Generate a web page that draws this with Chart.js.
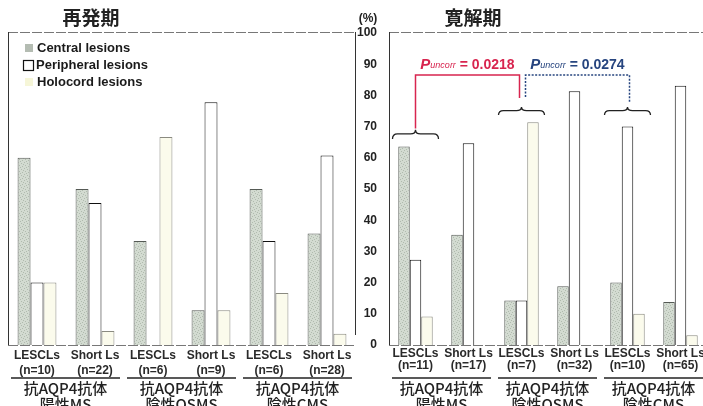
<!DOCTYPE html>
<html>
<head>
<meta charset="utf-8">
<script src="https://cdn.jsdelivr.net/npm/chart.js@4.4.1/dist/chart.umd.min.js"></script>
<style>
  html, body { margin: 0; padding: 0; background: #fff; width: 703px; height: 406px; overflow: hidden; }
  canvas { position: absolute; top: 0; }
  #relapse { left: 0; }
  #remission { left: 356px; }
</style>
</head>
<body>
<canvas id="relapse" width="360" height="406"></canvas>
<canvas id="remission" width="351" height="406"></canvas>
<script>
// chart data
const lesionTypes = ['Central lesions', 'Peripheral lesions', 'Holocord lesions'];
const relapseLabels = [['LESCLs', '(n=10)'], ['Short Ls', '(n=22)'], ['LESCLs', '(n=6)'], ['Short Ls', '(n=9)'], ['LESCLs', '(n=6)'], ['Short Ls', '(n=28)']];
const remissionLabels = [['LESCLs', '(n=11)'], ['Short Ls', '(n=17)'], ['LESCLs', '(n=7)'], ['Short Ls', '(n=32)'], ['LESCLs', '(n=10)'], ['Short Ls', '(n=65)']];
const groupNames = [['抗AQP4抗体', '陽性MS'], ['抗AQP4抗体', '陰性OSMS'], ['抗AQP4抗体', '陰性CMS']];

const relapseCentral = [60, 50, 33.3, 11.1, 50, 35.7];
const relapsePeripheral = [20, 45.5, 0, 77.8, 33.3, 60.7];
const relapseHolocord = [20, 4.5, 66.7, 11.1, 16.7, 3.6];

const remissionCentral = [63.6, 35.3, 14.3, 18.8, 20, 13.8];
const remissionPeripheral = [27.3, 64.7, 14.3, 81.3, 70, 83.1];
const remissionHolocord = [9.1, 0, 71.4, 0, 10, 3.1];

const yTicks = [0, 10, 20, 30, 40, 50, 60, 70, 80, 90, 100];
const pValues = ['0.0218', '0.0274'];

const latin = "'Liberation Sans', Arial, sans-serif";
const cjk = "'Noto Sans CJK JP', 'Noto Sans', sans-serif";

// speckled grey fill for the central lesions bars
function speckle() {
    const c = document.createElement('canvas');
    c.width = 6; c.height = 6;
    const g = c.getContext('2d');
    g.fillStyle = '#d3dbd1';
    g.fillRect(0, 0, 6, 6);
    g.fillStyle = '#b0bbae';
    [[0, 0], [3, 1], [1, 3], [4, 4], [5, 2], [2, 5]].forEach(p => g.fillRect(p[0], p[1], 1, 1));
    return g.createPattern(c, 'repeat');
}
const centralFill = speckle();

function makeDatasets(central, peripheral, holocord) {
    return [
        { label: lesionTypes[0], data: central, backgroundColor: centralFill, borderColor: '#555a55', borderWidth: 1 },
        { label: lesionTypes[1], data: peripheral, backgroundColor: '#ffffff', borderColor: '#111111', borderWidth: 1 },
        { label: lesionTypes[2], data: holocord, backgroundColor: '#fbfbec', borderColor: '#8a8a80', borderWidth: 1 }
    ];
}

// frame round the plot area
function drawFrame(ctx, a, sides) {
    ctx.save();
    ctx.lineWidth = 1;
    ctx.strokeStyle = '#777';
    ctx.setLineDash([10, 2]);
    ctx.beginPath();
    ctx.moveTo(a.left, a.top - 0.5); ctx.lineTo(a.right, a.top - 0.5);
    ctx.moveTo(a.left, a.bottom + 0.5); ctx.lineTo(a.right, a.bottom + 0.5);
    ctx.stroke();
    ctx.setLineDash([]);
    ctx.strokeStyle = '#333';
    ctx.beginPath();
    if (sides.left) { ctx.moveTo(a.left + 0.5, a.top - 1); ctx.lineTo(a.left + 0.5, a.bottom); }
    if (sides.right) { ctx.moveTo(a.right - 0.5, a.top - 1); ctx.lineTo(a.right - 0.5, a.bottom - 10); }
    ctx.stroke();
    ctx.restore();
}

// group names under each pair of categories
function drawGroups(chart) {
    const ctx = chart.ctx;
    const x = chart.scales.x;
    const w = x.getPixelForValue(1) - x.getPixelForValue(0);
    const base = chart.chartArea.bottom;
    ctx.save();
    groupNames.forEach((name, g) => {
        const l = x.getPixelForValue(2 * g) - w / 2 + 3;
        const r = x.getPixelForValue(2 * g + 1) + w / 2 - 4;
        ctx.strokeStyle = '#222';
        ctx.lineWidth = 1.5;
        ctx.beginPath();
        ctx.moveTo(l, base + 33); ctx.lineTo(r, base + 33);
        ctx.stroke();
        ctx.fillStyle = '#222';
        ctx.font = '500 15px ' + cjk;
        ctx.textAlign = 'center';
        ctx.textBaseline = 'middle';
        ctx.fillText(name[0], (l + r) / 2, base + 43);
        ctx.fillText(name[1], (l + r) / 2, base + 59);
    });
    ctx.restore();
}

function drawTitle(ctx, text, x) {
    ctx.save();
    ctx.fillStyle = '#222';
    ctx.font = 'bold 19px ' + cjk;
    ctx.textAlign = 'center';
    ctx.textBaseline = 'middle';
    ctx.fillText(text, x, 18);
    ctx.restore();
}

const relapsePanel = {
    id: 'relapsePanel',
    beforeDatasetsDraw(chart) {
        drawFrame(chart.ctx, chart.chartArea, { left: true, right: true });
    },
    afterDraw(chart) {
        const ctx = chart.ctx;
        drawTitle(ctx, '再発期', 91);
        drawGroups(chart);
        // legend inside the plot
        ctx.save();
        ctx.font = 'bold 13px ' + latin;
        ctx.textBaseline = 'middle';
        ctx.fillStyle = '#b4bcb2';
        ctx.fillRect(25, 44, 8, 8);
        ctx.strokeStyle = '#111';
        ctx.lineWidth = 1.2;
        ctx.strokeRect(23.5, 60.5, 10, 10);
        ctx.fillStyle = '#f6f6d8';
        ctx.fillRect(25, 78, 8, 8);
        ctx.fillStyle = '#1a1a1a';
        ctx.fillText(lesionTypes[0], 37, 48);
        ctx.fillText(lesionTypes[1], 36, 65);
        ctx.fillText(lesionTypes[2], 37, 82);
        ctx.restore();
    }
};

function brace(ctx, xc, half, yTip, yEnd) {
    const ym = yTip + (yEnd - yTip) * 0.45;
    const r = 5;
    ctx.beginPath();
    ctx.moveTo(xc - half, yEnd);
    ctx.quadraticCurveTo(xc - half, ym, xc - half + r, ym);
    ctx.lineTo(xc - r, ym);
    ctx.quadraticCurveTo(xc, ym, xc, yTip);
    ctx.quadraticCurveTo(xc, ym, xc + r, ym);
    ctx.lineTo(xc + half - r, ym);
    ctx.quadraticCurveTo(xc + half, ym, xc + half, yEnd);
    ctx.stroke();
}

function pText(ctx, value, xc, y, color) {
    const f1 = 'italic bold 15px ' + latin;
    const f2 = 'italic 9px ' + latin;
    const f3 = 'bold 14px ' + latin;
    const tail = ' = ' + value;
    ctx.font = f1; const w1 = ctx.measureText('P').width;
    ctx.font = f2; const w2 = ctx.measureText('uncorr').width;
    ctx.font = f3; const w3 = ctx.measureText(tail).width;
    let x = xc - (w1 + w2 + w3) / 2;
    ctx.fillStyle = color;
    ctx.textAlign = 'left';
    ctx.textBaseline = 'alphabetic';
    ctx.font = f1; ctx.fillText('P', x, y); x += w1;
    ctx.font = f2; ctx.fillText('uncorr', x, y - 1); x += w2;
    ctx.font = f3; ctx.fillText(tail, x, y);
}

const remissionPanel = {
    id: 'remissionPanel',
    beforeDatasetsDraw(chart) {
        drawFrame(chart.ctx, chart.chartArea, { left: true, right: false });
    },
    afterDraw(chart, args, opts) {
        const ctx = chart.ctx;
        const x = chart.scales.x;
        const y = chart.scales.y;
        drawTitle(ctx, '寛解期', 117);
        ctx.save();
        ctx.font = 'bold 12px ' + latin;
        ctx.fillStyle = '#222';
        ctx.textAlign = 'center';
        ctx.textBaseline = 'middle';
        ctx.fillText('(%)', 12, 19);
        ctx.restore();
        drawGroups(chart);

        ctx.save();
        ctx.strokeStyle = '#222';
        ctx.lineWidth = 1.3;
        opts.braces.forEach(b => {
            brace(ctx, x.getPixelForValue(b.index), 23, y.getPixelForValue(b.tip), y.getPixelForValue(b.end));
        });
        opts.brackets.forEach((b, i) => {
            const x1 = x.getPixelForValue(b.from) + b.fromOff;
            const x2 = x.getPixelForValue(b.to) + b.toOff;
            const top = y.getPixelForValue(b.level);
            ctx.strokeStyle = b.color;
            ctx.lineWidth = 1.5;
            ctx.setLineDash(b.dash);
            ctx.beginPath();
            ctx.moveTo(x1, y.getPixelForValue(b.fromEnd));
            ctx.lineTo(x1, top);
            ctx.lineTo(x2, top);
            ctx.lineTo(x2, y.getPixelForValue(b.toEnd));
            ctx.stroke();
            ctx.setLineDash([]);
            pText(ctx, pValues[i], (x1 + x2) / 2, top - 6, b.color);
        });
        ctx.restore();
    }
};

function xAxis(labels, padding, lineHeight) {
    return {
        type: 'category',
        labels: labels,
        grid: { display: false, drawTicks: false },
        border: { display: false },
        ticks: { color: '#2a2a2a', padding: padding, maxRotation: 0, autoSkip: false,
                 font: { family: latin, size: 12, weight: 'bold', lineHeight: lineHeight } },
        afterFit: s => { s.height = 61; }
    };
}

new Chart(document.getElementById('relapse'), {
    type: 'bar',
    data: { labels: relapseLabels, datasets: makeDatasets(relapseCentral, relapsePeripheral, relapseHolocord) },
    options: {
        responsive: false,
        animation: false,
        layout: { padding: { top: 33, left: 8, right: 4, bottom: 0 } },
        datasets: { bar: { categoryPercentage: 0.67, barPercentage: 1 } },
        scales: {
            x: xAxis(relapseLabels, 3, 1.25),
            y: { display: false, min: 0, max: 100 }
        },
        plugins: { legend: { display: false }, tooltip: { enabled: false } }
    },
    plugins: [relapsePanel]
});

new Chart(document.getElementById('remission'), {
    type: 'bar',
    data: { labels: remissionLabels, datasets: makeDatasets(remissionCentral, remissionPeripheral, remissionHolocord) },
    options: {
        responsive: false,
        animation: false,
        layout: { padding: { top: 33, left: 0, right: 0, bottom: 0 } },
        datasets: { bar: { categoryPercentage: 0.65, barPercentage: 1 } },
        scales: {
            x: xAxis(remissionLabels, 2, 1.05),
            y: {
                min: 0, max: 100,
                grid: { display: false, drawTicks: false },
                border: { display: false },
                afterBuildTicks: s => { s.ticks = yTicks.map(v => ({ value: v })); },
                ticks: { color: '#222', padding: 12, font: { family: latin, size: 12, weight: 'bold' } },
                afterFit: s => { s.width = 33; }
            }
        },
        plugins: {
            legend: { display: false },
            tooltip: { enabled: false },
            remissionPanel: {
                braces: [
                    { index: 0, tip: 69, end: 66 },
                    { index: 2, tip: 76.3, end: 73.7 },
                    { index: 4, tip: 76.3, end: 73.7 }
                ],
                brackets: [
                    { from: 0, to: 2, fromOff: 0, toOff: -2, level: 86.5, fromEnd: 69.4, toEnd: 79.2, color: '#d8254f', dash: [] },
                    { from: 2, to: 4, fromOff: 4, toOff: 2, level: 86.5, fromEnd: 79.5, toEnd: 77.9, color: '#27457f', dash: [2, 1.5] }
                ]
            }
        }
    },
    plugins: [remissionPanel]
});
</script>
</body>
</html>
